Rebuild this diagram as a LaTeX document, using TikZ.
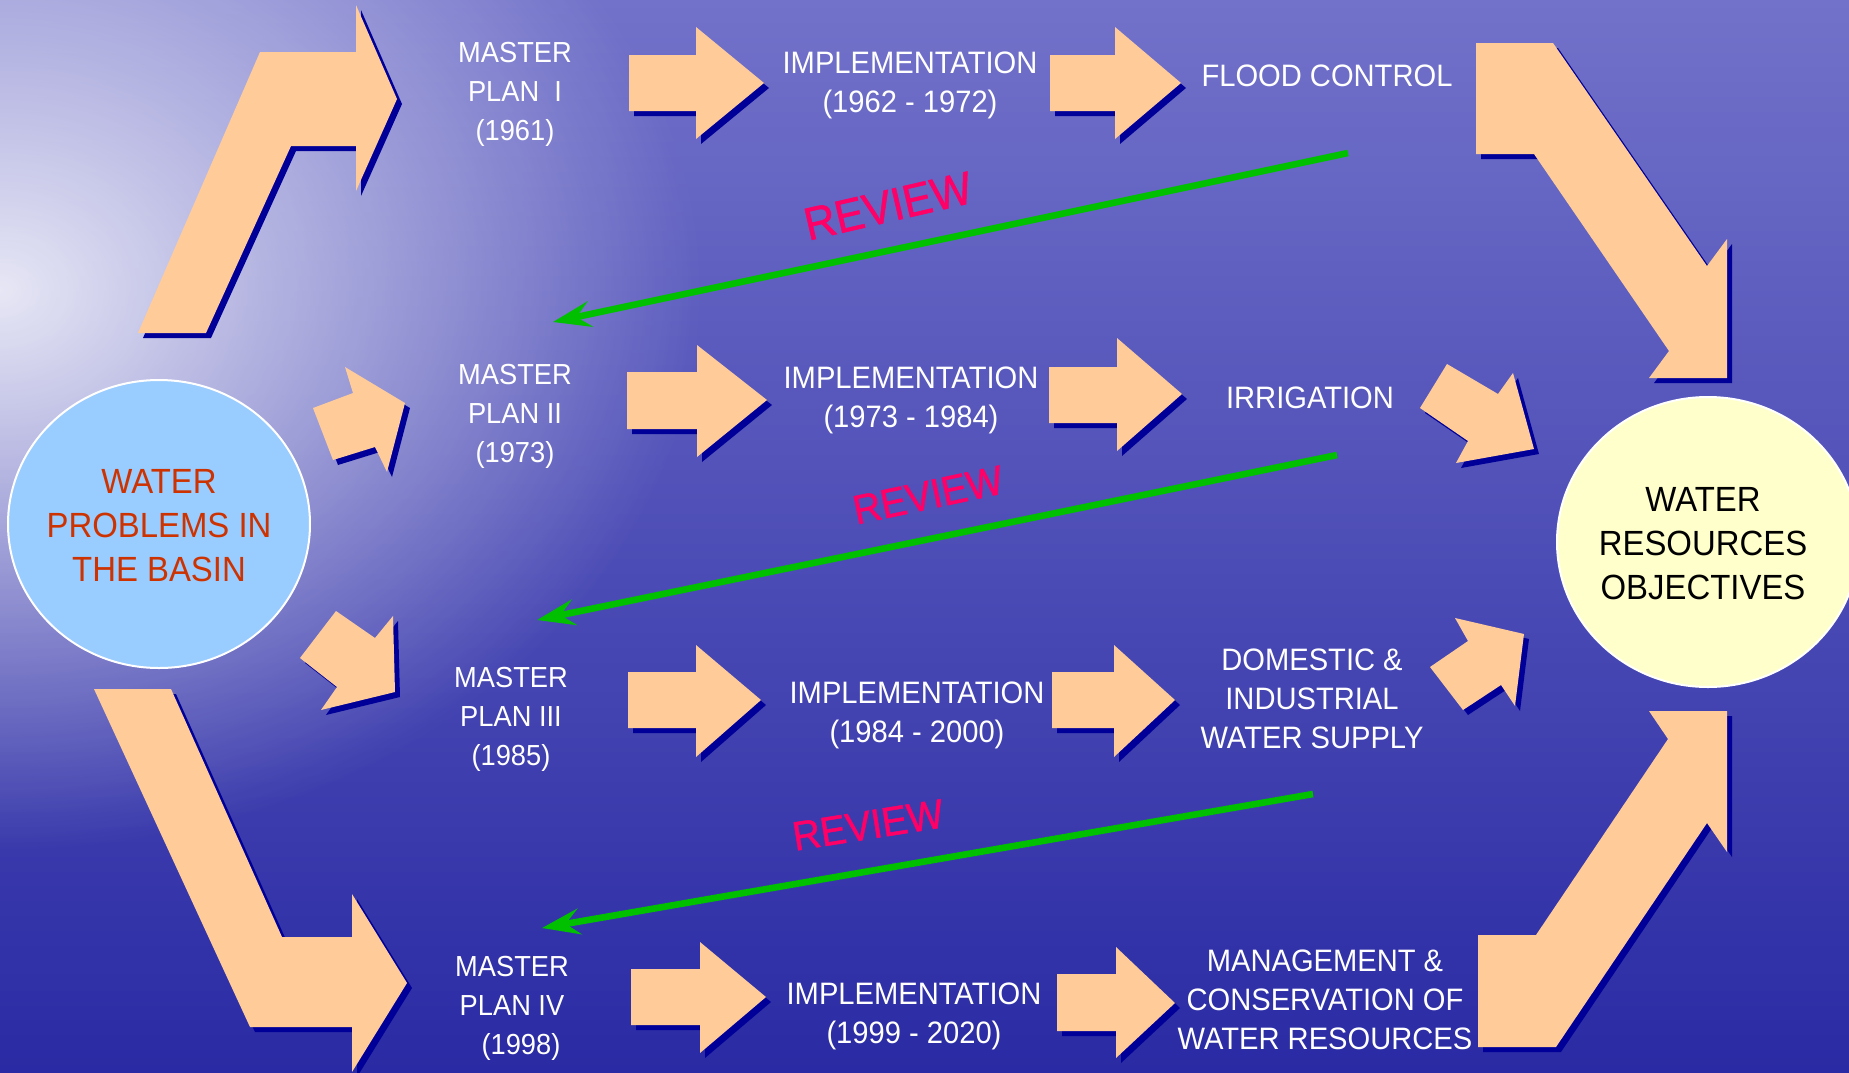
\documentclass[tikz,border=0pt]{standalone}
\usepackage{fontspec}
\setmainfont{Liberation Sans}[FakeStretch=0.94]
\newfontfamily\reviewfont{Liberation Sans}[FakeStretch=0.94, FakeBold=1.2]
\usetikzlibrary{arrows.meta,shapes.geometric,fadings}
\definecolor{peach}{HTML}{FFCC99}
\definecolor{shadowblue}{HTML}{000099}
\definecolor{bgtop}{HTML}{7272CA}
\definecolor{bgmid}{HTML}{4646B4}
\definecolor{bgbot}{HTML}{2A2AA4}
\definecolor{reviewred}{HTML}{FF0066}
\definecolor{revgreen}{HTML}{00C000}
\definecolor{probred}{HTML}{CC3300}
\definecolor{lblue}{HTML}{99CCFF}
\definecolor{lyellow}{HTML}{FFFFCC}
\tikzfading[name=glowfade, inner color=transparent!0, outer color=transparent!100]
\tikzfading[name=bandfade, top color=transparent!100, middle color=transparent!0, bottom color=transparent!100]
\newcommand\peachshape[1]{\fill[shadowblue,shift={(5,5)}] #1 -- cycle; \fill[peach] #1 -- cycle;}
\begin{document}
\begin{tikzpicture}[x=0.5pt,y=-0.5pt,
  wtext/.style={text=white, align=center, inner sep=0pt, font=\fontsize{15.5}{19.5}\selectfont},
  mptext/.style={wtext, font=\fontsize{14.5}{19.5}\selectfont},
  circlenode/.style={ellipse, draw=white, line width=1pt, inner sep=0pt,
    minimum width=151pt, minimum height=144pt},
  circletext/.style={align=center, inner sep=0pt, font=\fontsize{17.5}{22}\selectfont},
  reviewlbl/.style={text=reviewred, inner sep=0pt, font=\reviewfont\fontsize{20.5}{20.5}\selectfont},
  reviewarrow/.style={draw=revgreen, line width=3.3pt, -{Stealth[length=19pt,width=13pt,inset=7pt]}}]
\useasboundingbox (0,0) rectangle (1849,1072);
% background
\shade[top color=bgtop, middle color=bgmid, bottom color=bgbot] (0,0) rectangle (1849,1072);
\fill[white, opacity=0.85, path fading=glowfade] (0,290) ellipse [x radius=700, y radius=560];
\fill[white, opacity=0.22, path fading=bandfade] (0,115) rectangle (1849,185);
% block arrows
\peachshape{(138,333) -- (206,333) -- (291,146) -- (356,146) -- (356,191) -- (397,99) -- (356,5) -- (356,52) -- (260,52)}
\peachshape{(1476,43) -- (1553,43) -- (1707,266) -- (1727,239) -- (1727,378) -- (1649,378) -- (1669,351) -- (1534,154) -- (1476,154)}
\peachshape{(313,408) -- (353,393) -- (345,367) -- (405,403) -- (387,472) -- (375,447) -- (333,460)}
\peachshape{(300,658) -- (336,611) -- (375,638) -- (393,616) -- (395,692) -- (321,710) -- (337,687)}
\peachshape{(94,689) -- (171,689) -- (282,937) -- (352,937) -- (352,894) -- (407,983) -- (352,1072) -- (352,1027) -- (250,1027)}
\peachshape{(1420,408) -- (1447,364) -- (1498,394) -- (1513,373) -- (1534,449) -- (1456,463) -- (1468,441)}
\peachshape{(1430,667) -- (1463,710) -- (1501,685) -- (1515,706) -- (1524,634) -- (1455,618) -- (1468,641)}
\peachshape{(1478,1047) -- (1556,1047) -- (1707,823) -- (1727,852) -- (1727,711) -- (1649,711) -- (1668,739) -- (1536,935) -- (1478,935)}
\peachshape{(629,55) -- (696,55) -- (696,27) -- (764,83) -- (696,139) -- (696,111) -- (629,111)}
\peachshape{(1050,55) -- (1115,55) -- (1115,27) -- (1181,83) -- (1115,139) -- (1115,111) -- (1050,111)}
\peachshape{(627,372) -- (697,372) -- (697,345) -- (767,400) -- (697,457) -- (697,429) -- (627,429)}
\peachshape{(1049,367) -- (1117,367) -- (1117,338) -- (1182,394) -- (1117,451) -- (1117,423) -- (1049,423)}
\peachshape{(628,672) -- (696,672) -- (696,645) -- (761,700) -- (696,757) -- (696,728) -- (628,728)}
\peachshape{(1052,672) -- (1114,672) -- (1114,645) -- (1175,700) -- (1114,757) -- (1114,728) -- (1052,728)}
\peachshape{(631,969) -- (700,969) -- (700,942) -- (766,997) -- (700,1053) -- (700,1025) -- (631,1025)}
\peachshape{(1057,974) -- (1116,974) -- (1116,947) -- (1175,1003) -- (1116,1058) -- (1116,1031) -- (1057,1031)}
% circles
\node[circlenode, fill=lblue] (problems) at (159,524) {};
\node[circletext, text=probred] (problemstext) at (159,526) {WATER\\PROBLEMS IN\\THE BASIN};
\node[circlenode, fill=lyellow, minimum height=145pt] (objectives) at (1708,542) {};
\node[circletext, text=black] (objectivestext) at (1703,544) {WATER\\RESOURCES\\OBJECTIVES};
% texts
\node[mptext] (mp1) at (515,94) {MASTER\\PLAN~~I\\(1961)};
\node[wtext] (impl1) at (910,85) {IMPLEMENTATION\\(1962 - 1972)};
\node[wtext] (flood) at (1327,76) {FLOOD CONTROL};
\node[mptext] (mp2) at (515,416) {MASTER\\PLAN II\\(1973)};
\node[wtext] (impl2) at (911,400) {IMPLEMENTATION\\(1973 - 1984)};
\node[wtext] (irrig) at (1310,398) {IRRIGATION};
\node[mptext] (mp3) at (511,719) {MASTER\\PLAN III\\(1985)};
\node[wtext] (impl3) at (917,715) {IMPLEMENTATION\\(1984 - 2000)};
\node[wtext] (domestic) at (1312,699) {DOMESTIC \&\\INDUSTRIAL\\WATER SUPPLY};
\node[mptext] (mp4) at (512,1008) {MASTER\\PLAN IV\\\hspace*{9pt}(1998)};
\node[wtext] (impl4) at (914,1016) {IMPLEMENTATION\\(1999 - 2020)};
\node[wtext] (manage) at (1325,1000) {MANAGEMENT \&\\CONSERVATION OF\\WATER RESOURCES};
% review connectors
\coordinate (g1s) at (1348,153); \coordinate (g1e) at (553,322);
\coordinate (g2s) at (1337,455); \coordinate (g2e) at (537,620);
\coordinate (g3s) at (1313,794); \coordinate (g3e) at (542,928);
\draw[reviewarrow] (g1s) -- (g1e);
\draw[reviewarrow] (g2s) -- (g2e);
\draw[reviewarrow] (g3s) -- (g3e);
\node[reviewlbl, rotate=13, font=\reviewfont\fontsize{23}{23}\selectfont] (rev1) at (888,206) {REVIEW};
\node[reviewlbl, rotate=12] (rev2) at (928,495) {REVIEW};
\node[reviewlbl, rotate=9] (rev3) at (868,825) {REVIEW};
\end{tikzpicture}
\end{document}
